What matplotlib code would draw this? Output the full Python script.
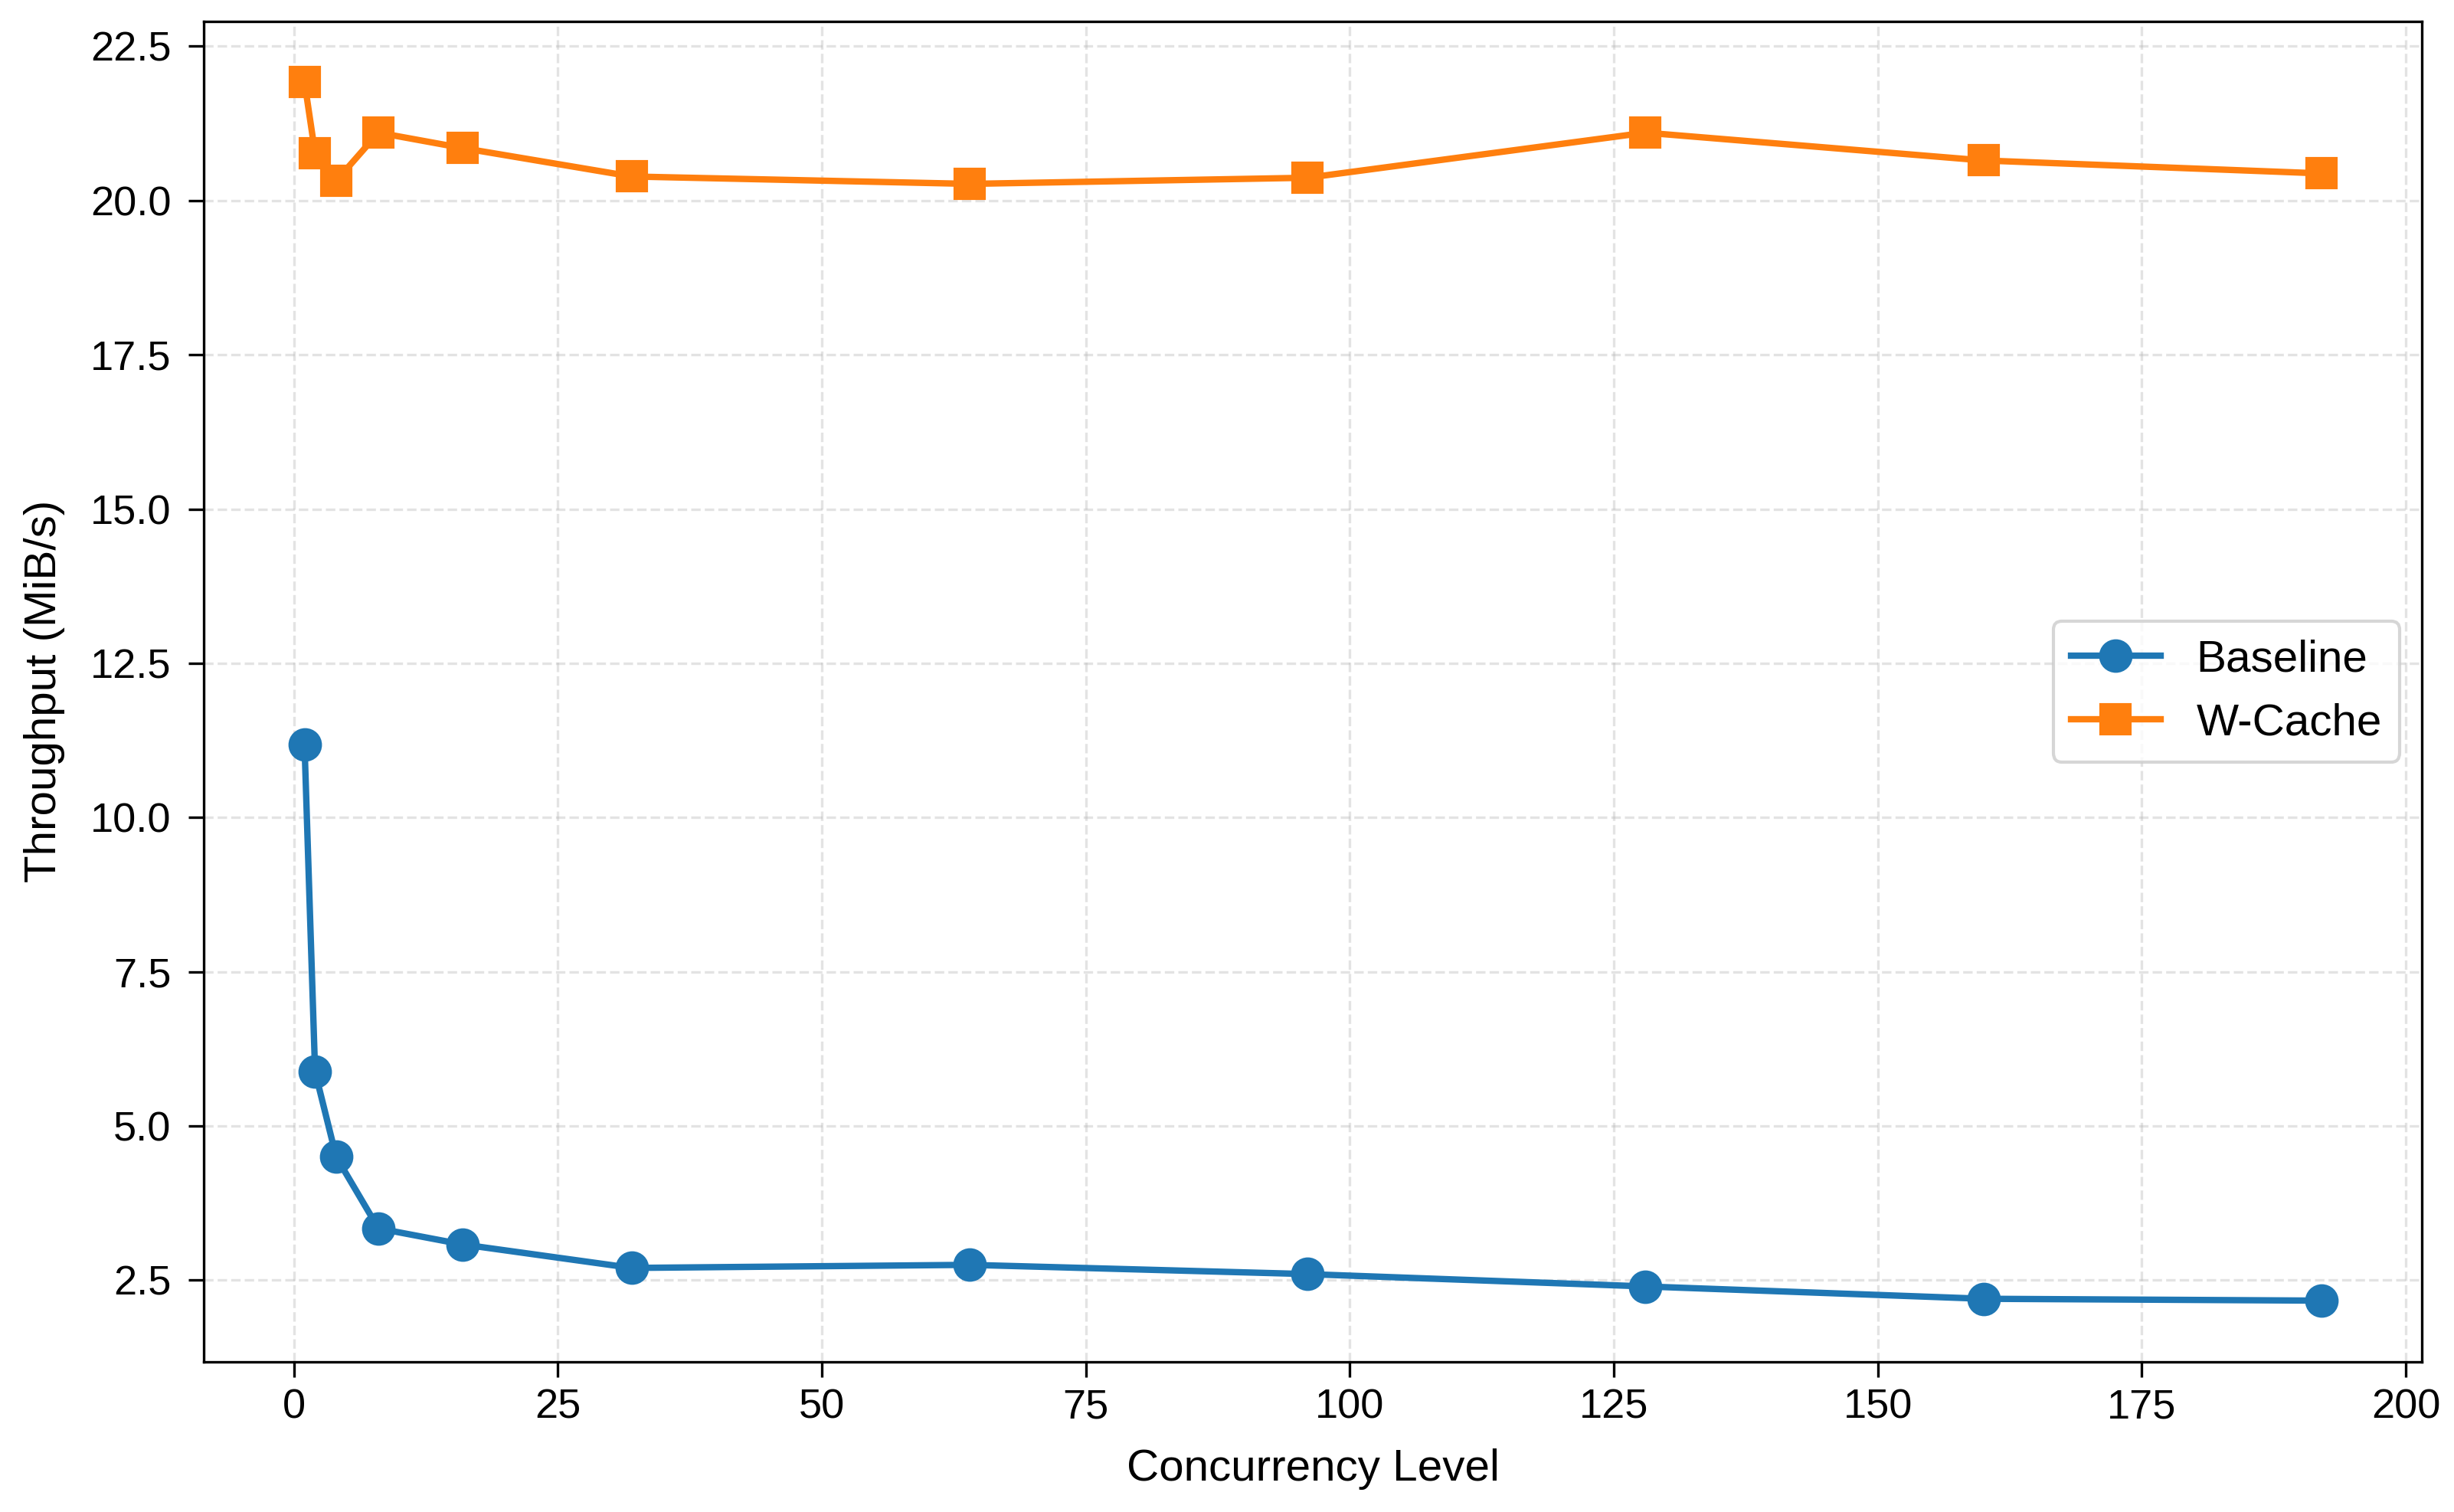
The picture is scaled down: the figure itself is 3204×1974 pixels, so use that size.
"""
Throughput vs concurrency level: Baseline vs W-Cache.
"""

import matplotlib
matplotlib.use("Agg")
import matplotlib.pyplot as plt

plt.rcParams["font.family"] = ["Liberation Sans", "DejaVu Sans"]

CONCURRENCY = [1, 2, 4, 8, 16, 32, 64, 96, 128, 160, 192]
BASELINE = [11.18, 5.88, 4.50, 3.34, 3.08, 2.70, 2.75, 2.60, 2.40, 2.20, 2.17]
WCACHE = [21.92, 20.77, 20.32, 21.10, 20.85, 20.39, 20.27, 20.37, 21.10, 20.65, 20.44]


def main():
    fig, ax = plt.subplots(figsize=(10.68, 6.58), dpi=300)
    fig.subplots_adjust(left=0.083, right=0.987, top=0.986, bottom=0.0995)

    ax.plot(CONCURRENCY, BASELINE, marker="o", markersize=9.5, linewidth=2,
            color="#1f77b4", label="Baseline")
    ax.plot(CONCURRENCY, WCACHE, marker="s", markersize=9, linewidth=2,
            color="#ff7f0e", label="W-Cache")

    ax.set_xlabel("Concurrency Level", fontsize=14, labelpad=7)
    ax.set_ylabel("Throughput (MiB/s)", fontsize=14, labelpad=8)
    ax.tick_params(axis="both", labelsize=13, length=4.8)
    ax.tick_params(axis="y", pad=5.4)
    ax.grid(True, linestyle="--", alpha=0.35)
    ax.legend(loc="center right", fontsize=14)

    fig.savefig("out.png", dpi=300)
    plt.close(fig)


if __name__ == "__main__":
    main()
